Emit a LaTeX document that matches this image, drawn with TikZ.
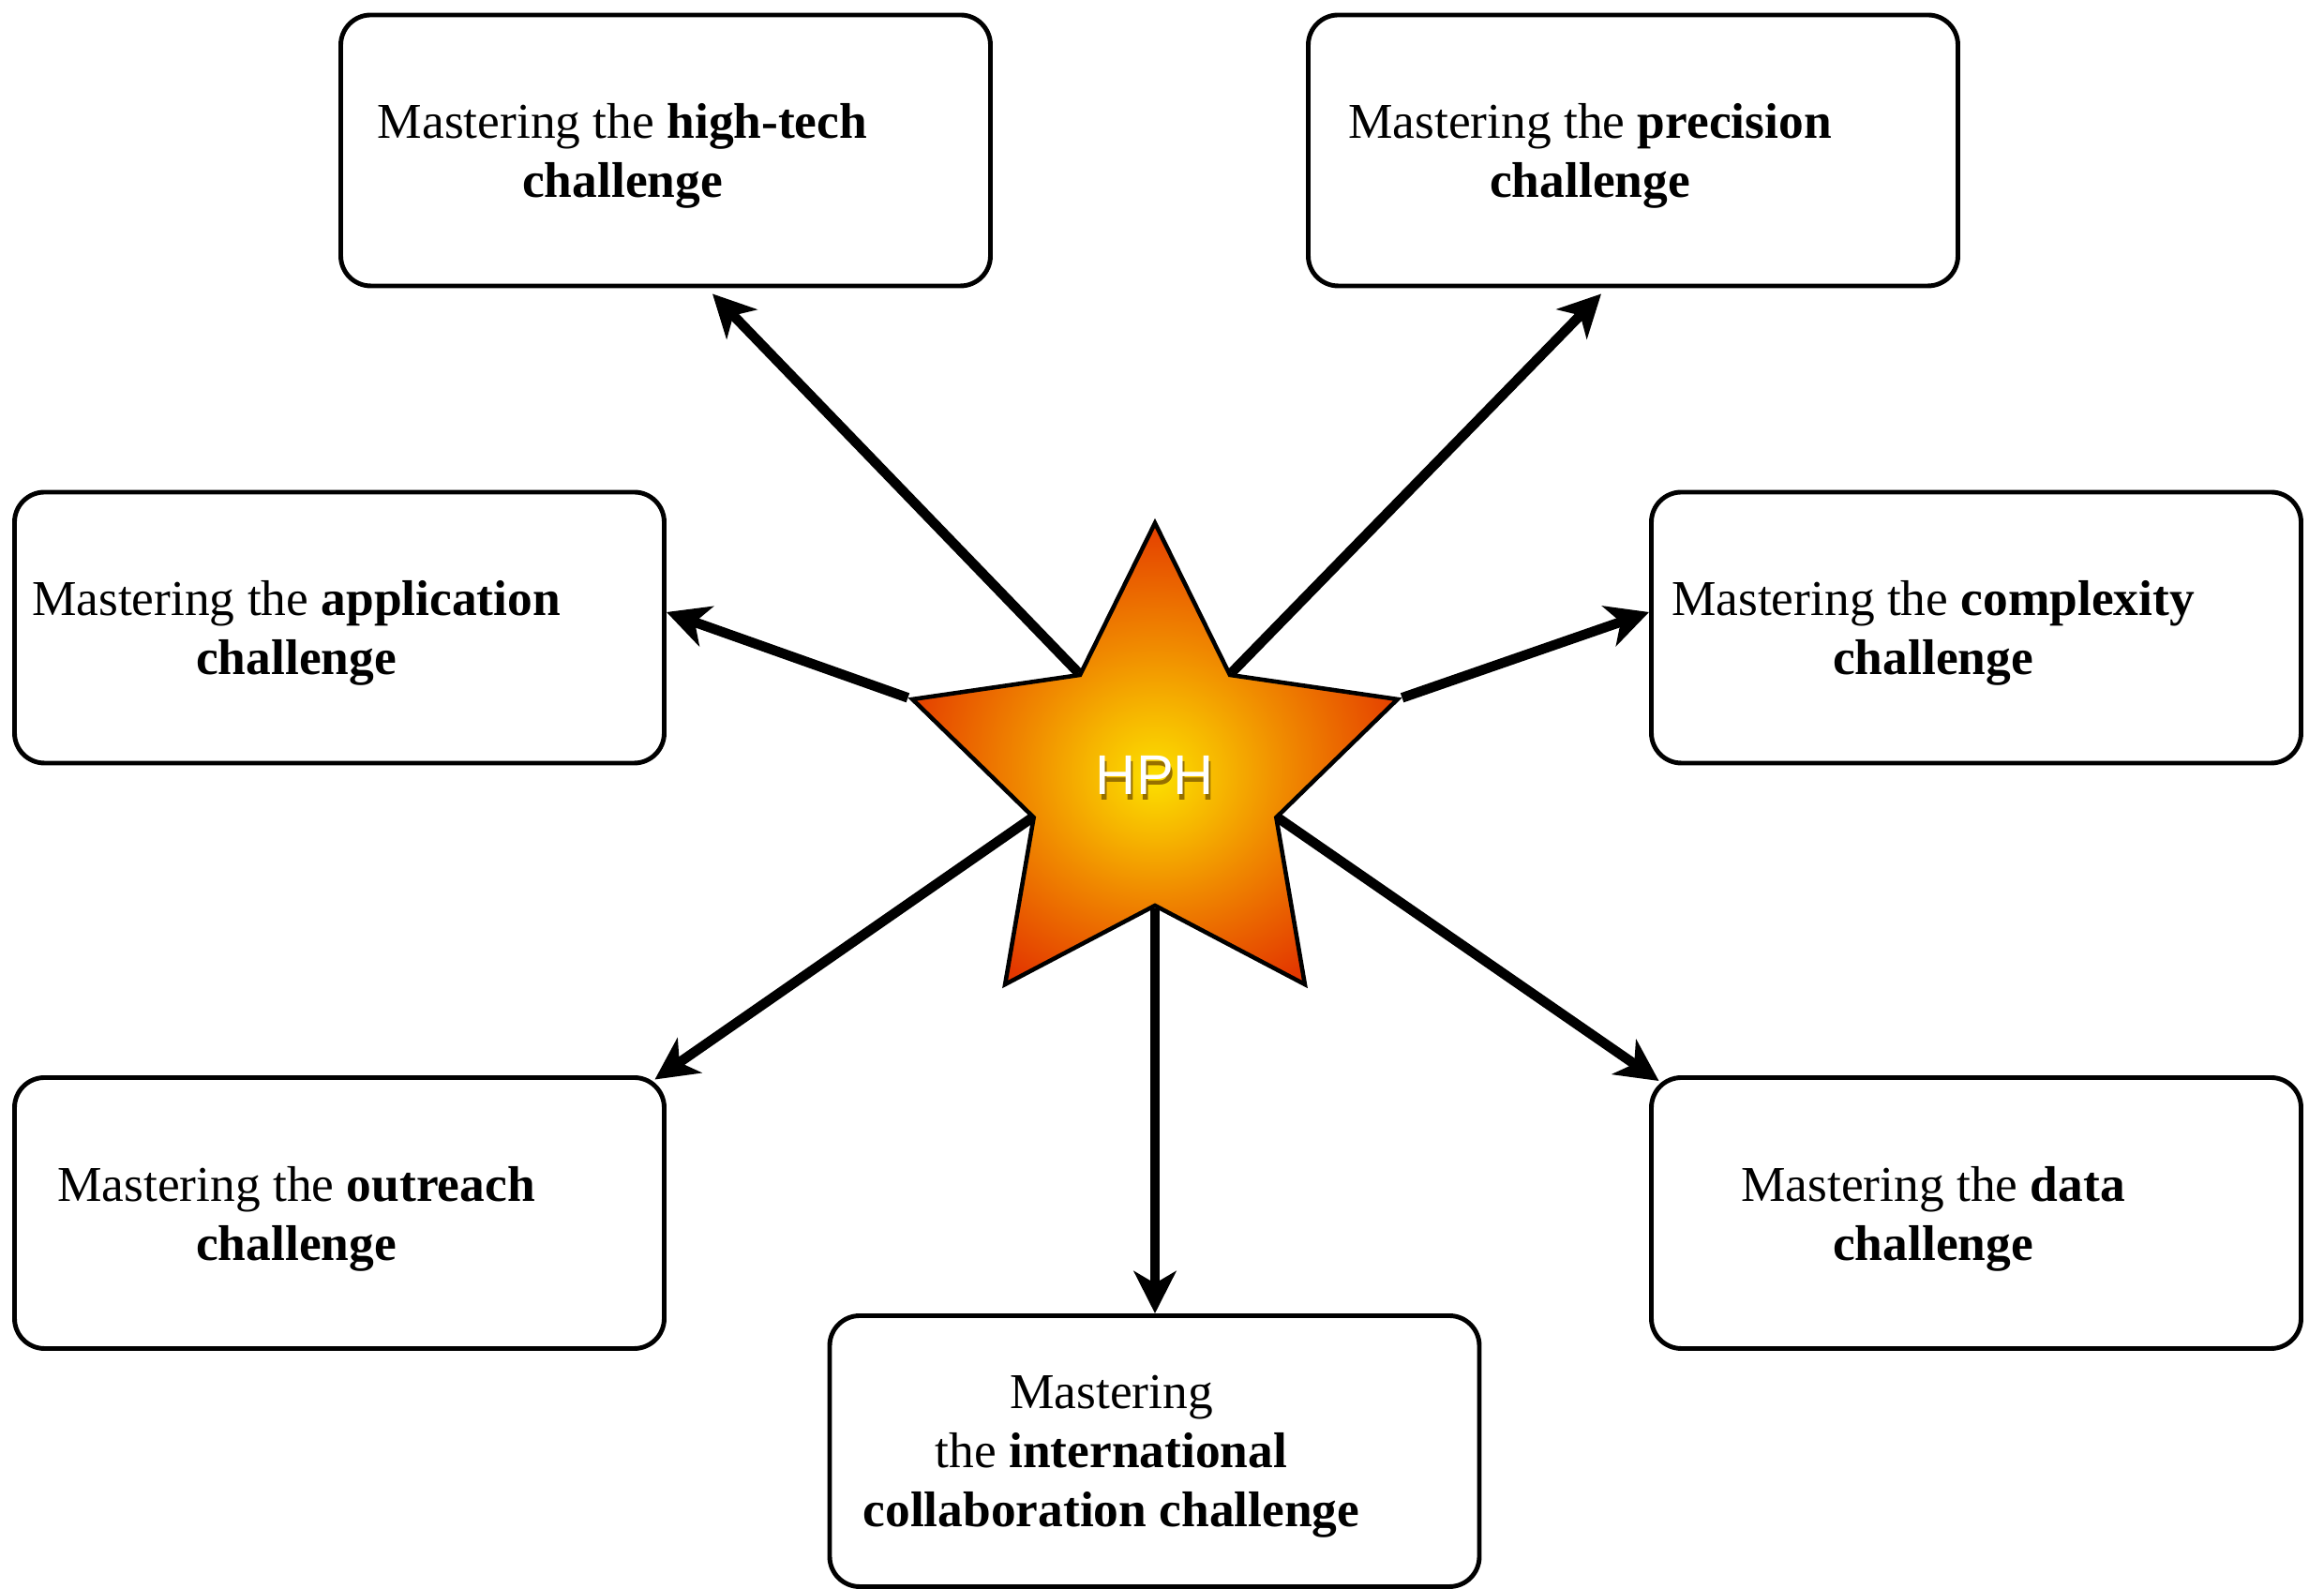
\documentclass[tikz,border=0pt]{standalone}
\usepackage{fontspec}
\setmainfont{Liberation Serif}
\newfontfamily\hphfont{Liberation Sans}
\usetikzlibrary{shapes.geometric,arrows.meta,backgrounds}

\definecolor{hphyellow}{RGB}{252,224,0}
\definecolor{hphamber}{RGB}{246,181,0}
\definecolor{hphorange}{RGB}{240,138,0}
\definecolor{hphdeep}{RGB}{234,98,0}
\definecolor{hphred}{RGB}{227,56,0}
\definecolor{hphshade}{RGB}{150,112,0}
\pgfdeclareradialshading{hphglow}{\pgfpoint{0bp}{-2.6bp}}{color(0bp)=(hphyellow);color(7bp)=(hphamber);color(13.5bp)=(hphorange);color(20bp)=(hphdeep);color(27bp)=(hphred);color(40bp)=(hphred)}
\newcommand{\hphshadowed}[1]{\rlap{\kern0.2mm\raisebox{-0.6mm}{\textcolor{hphshade}{#1}}}#1}

\begin{document}
\begin{tikzpicture}[
    challenge/.style={rectangle, draw, fill=white, rounded corners=0.32cm, line width=1.4pt, minimum width=6.93cm, minimum height=2.89cm, inner sep=0pt},
    challengetxt/.style={align=center, inner sep=0pt, font=\fontsize{15.2}{17.9}\selectfont, xshift=-0.46cm, yshift=-0.6mm},
    hphtxt/.style={inner sep=0pt, text=white, font=\hphfont\fontsize{17}{20}\selectfont},
    link/.style={line width=3pt, -{Stealth[length=4.5mm,width=4.5mm,inset=1.3mm]}}
  ]
    \useasboundingbox (0,0) rectangle (24.79,16.95);

    \node(hightech) [challenge] at (7.10,15.345) {};
    \node(precision) [challenge] at (17.42,15.345) {};
    \node(application) [challenge] at (3.62,10.255) {};
    \node(complexity) [challenge] at (21.08,10.255) {};
    \node(outreach) [challenge] at (3.62,4.01) {};
    \node(data) [challenge] at (21.08,4.01) {};
    \node(international) [challenge] at (12.315,1.47) {};

    \node(hightech-txt) [challengetxt] at (hightech.center) {Mastering the \textbf{high-tech}\\\textbf{challenge}};
    \node(precision-txt) [challengetxt] at (precision.center) {Mastering the \textbf{precision}\\\textbf{challenge}};
    \node(application-txt) [challengetxt] at (application.center) {Mastering the \textbf{application}\\\textbf{challenge}};
    \node(complexity-txt) [challengetxt] at (complexity.center) {Mastering the \textbf{complexity}\\\textbf{challenge}};
    \node(outreach-txt) [challengetxt] at (outreach.center) {Mastering the \textbf{outreach}\\\textbf{challenge}};
    \node(data-txt) [challengetxt] at (data.center) {Mastering the \textbf{data}\\\textbf{challenge}};
    \node(international-txt) [challengetxt] at (international.center) {Mastering\\the \textbf{international}\\\textbf{collaboration challenge}};

    % the star in the middle
    \node(hph) [star, star points=5, star point ratio=2, minimum size=5.44cm, inner sep=0pt, draw, line width=1.3pt, shading=hphglow] at (12.32,8.65) {};
    \node(hph-label) [hphtxt] at (hph.center) {\hphshadowed{HPH}};

    \begin{scope}[on background layer]
      \draw[link] (hph.inner point 1) -- ([xshift=5mm,yshift=-0.6mm]hightech.south);
      \draw[link] (hph.inner point 5) -- ([xshift=-3.4mm,yshift=-0.6mm]precision.south);
      \draw[link] (hph.outer point 2) -- ([yshift=1.65mm]application.east);
      \draw[link] (hph.outer point 5) -- ([yshift=1.65mm]complexity.west);
      \draw[link] (hph.inner point 2) -- ([xshift=-1.25mm,yshift=-0.45mm]outreach.north east);
      \draw[link] (hph.inner point 4) -- ([xshift=1.05mm,yshift=-0.6mm]data.north west);
      \draw[link] (hph.inner point 3) -- (hph.inner point 3 |- international.north);
    \end{scope}
  \end{tikzpicture}
\end{document}
